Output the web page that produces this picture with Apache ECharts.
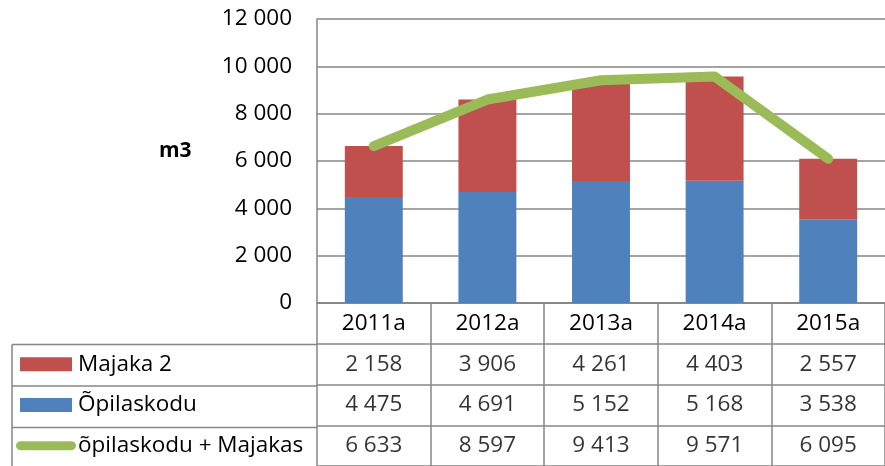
<!DOCTYPE html>
<html>
<head>
<meta charset="utf-8">
<script src="https://cdn.jsdelivr.net/npm/echarts@6/dist/echarts.min.js"></script>
<style>
  html, body { margin: 0; padding: 0; background: #fff; }
  #chart { width: 885px; height: 466px; }
</style>
</head>
<body>
<div id="chart"></div>
<script>
  // data
  var years = ['2011a', '2012a', '2013a', '2014a', '2015a']
  var majaka = [2158, 3906, 4261, 4403, 2557]
  var opilaskodu = [4475, 4691, 5152, 5168, 3538]
  var kokku = [6633, 8597, 9413, 9571, 6095]
  var rowNames = ['', 'Majaka 2', 'Õpilaskodu', 'õpilaskodu + Majakas']

  var RED = '#C0504D'
  var BLUE = '#4F81BD'
  var GREEN = '#9BBB59'
  var GRID = '#868686'
  var FONT = 'Open Sans'
  var FS = 22.5

  function fmt (n) {
    return String(n).replace(/\B(?=(\d{3})+(?!\d))/g, ' ')
  }

  // table cells (column, row, value)
  var cells = []
  var rows = [majaka, opilaskodu, kokku]
  for (var r = 0; r < rows.length; r++) {
    for (var c = 0; c < years.length; c++) {
      cells.push([c, r + 1, rows[r][c]])
    }
  }

  var plotLeft = 317
  var plotTop = 19
  var plotW = 581
  var plotH = 284
  var rowH = 41.5
  var tableTop = plotTop + plotH
  var tableLeft = 12

  var chart = echarts.init(document.getElementById('chart'))

  var frame = []
  for (var i = 1; i < 4; i++) {
    frame.push({
      type: 'line',
      shape: { x1: tableLeft, y1: tableTop + rowH * i, x2: plotLeft, y2: tableTop + rowH * i },
      style: { stroke: GRID, lineWidth: 1.5 }
    })
  }
  frame.push({
    type: 'line',
    shape: { x1: tableLeft, y1: tableTop + rowH, x2: tableLeft, y2: tableTop + rowH * 4 },
    style: { stroke: GRID, lineWidth: 1.5 }
  })

  chart.setOption({
    animation: false,
    textStyle: { fontFamily: FONT },
    title: {
      text: 'm3',
      left: 154,
      top: 136,
      textStyle: { fontFamily: FONT, fontSize: 21, fontWeight: 'bold', color: '#000' }
    },
    graphic: frame,
    grid: [
      { left: plotLeft, top: plotTop, width: plotW, height: plotH },
      { left: plotLeft, top: tableTop, width: plotW, height: rowH * 4 }
    ],
    xAxis: [{
      gridIndex: 0,
      type: 'category',
      data: years,
      axisLine: { lineStyle: { color: GRID, width: 1.5 } },
      axisTick: { show: false },
      axisLabel: { margin: 9, fontSize: FS, lineHeight: 24, color: '#000', fontFamily: FONT }
    }, {
      gridIndex: 1,
      type: 'category',
      data: years,
      axisLine: { show: false },
      axisTick: { show: false },
      axisLabel: { show: false },
      splitLine: { show: true, lineStyle: { color: GRID, width: 1.5 } }
    }],
    yAxis: [{
      gridIndex: 0,
      type: 'value',
      min: 0,
      max: 12000,
      interval: 2000,
      axisLine: { show: true, lineStyle: { color: GRID, width: 1.5 } },
      axisTick: { show: false },
      axisLabel: { margin: 25, fontSize: FS, color: '#000', fontFamily: FONT, formatter: fmt },
      splitLine: { lineStyle: { color: GRID, width: 1.5 } }
    }, {
      gridIndex: 1,
      type: 'category',
      inverse: true,
      data: rowNames,
      axisLine: { show: false },
      axisTick: { show: false },
      splitLine: { show: true, lineStyle: { color: GRID, width: 1.5 } },
      axisLabel: {
        margin: plotLeft - 16,
        align: 'left',
        fontSize: FS,
        color: '#000',
        fontFamily: FONT,
        formatter: function (v, idx) {
          if (idx === 1) return '{s|}{r|}{t|' + v + '}'
          if (idx === 2) return '{s|}{b|}{t|' + v + '}'
          if (idx === 3) return '{g|}{u|' + v + '}'
          return ''
        },
        rich: {
          s: { width: 4, height: 14 },
          r: { width: 52, height: 14, backgroundColor: RED },
          b: { width: 52, height: 14, backgroundColor: BLUE },
          g: { width: 60, height: 9, borderRadius: 5, backgroundColor: GREEN },
          t: { fontSize: FS, fontFamily: FONT, color: '#000', padding: [0, 0, 0, 6] },
          u: { fontSize: FS, fontFamily: FONT, color: '#000', padding: [0, 0, 0, 2] }
        }
      }
    }],
    series: [{
      name: 'Õpilaskodu',
      type: 'bar',
      stack: 'kokku',
      barWidth: '51%',
      itemStyle: { color: BLUE },
      data: opilaskodu
    }, {
      name: 'Majaka 2',
      type: 'bar',
      stack: 'kokku',
      barWidth: '51%',
      itemStyle: { color: RED },
      data: majaka
    }, {
      name: 'õpilaskodu + Majakas',
      type: 'line',
      symbol: 'none',
      lineStyle: { color: GREEN, width: 10, cap: 'round', join: 'round' },
      data: kokku
    }, {
      name: 'tabel',
      type: 'scatter',
      xAxisIndex: 1,
      yAxisIndex: 1,
      symbolSize: 0,
      silent: true,
      label: {
        show: true,
        position: 'inside',
        fontSize: FS,
        fontFamily: FONT,
        color: '#000',
        formatter: function (p) { return fmt(p.value[2]) }
      },
      data: cells
    }]
  })
</script>
</body>
</html>
